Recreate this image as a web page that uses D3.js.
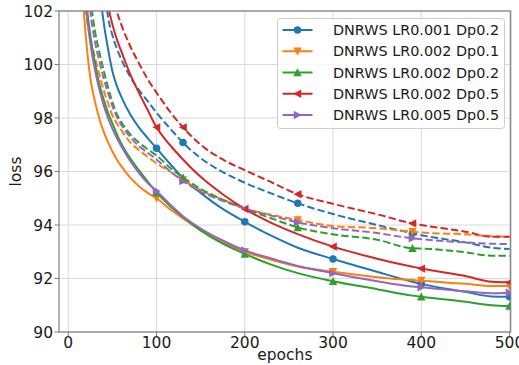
<!DOCTYPE html>
<html><head><meta charset="utf-8">
<script src="https://cdn.jsdelivr.net/npm/d3@7"></script>
<style>body{margin:0;background:#fff}svg{display:block;font-family:"DejaVu Sans",sans-serif}</style>
</head><body>
<svg id="c" width="519" height="365"></svg>
<script>
const epochs = [15,20,25,30,35,40,45,50,55,60,70,80,90,100,115,130,150,175,200,230,260,300,350,390,400,450,480,500];

const seriesNames = ["DNRWS LR0.001 Dp0.2","DNRWS LR0.002 Dp0.1","DNRWS LR0.002 Dp0.2","DNRWS LR0.002 Dp0.5","DNRWS LR0.005 Dp0.5"];
const colors = ["#1f77b4","#ff7f0e","#2ca02c","#d62728","#9467bd"];
const markers = ["circle","tdown","tup","tleft","tright"];

// solid lines
const solidLR001Dp02 = [118,112,108,105,103,101.6,100.6,99.75,99.2,98.8,98.15,97.65,97.25,96.87,96.3,95.75,95.2,94.6,94.12,93.6,93.15,92.73,92.25,91.88,91.8,91.5,91.33,91.32];
const solidLR002Dp01 = [103.2,101.0,99.5,98.65,98.0,97.5,97.1,96.75,96.45,96.2,95.78,95.45,95.2,95.0,94.6,94.25,93.8,93.35,93.0,92.7,92.45,92.25,92.05,91.94,91.92,91.8,91.72,91.72];
const solidLR002Dp02 = [106,102.6,101.1,100.1,99.3,98.7,98.2,97.8,97.4,97.05,96.5,96.05,95.62,95.22,94.72,94.3,93.8,93.3,92.92,92.52,92.2,91.9,91.6,91.36,91.32,91.13,91.0,90.97];
const solidLR002Dp05 = [125,118,113,109,106,103.6,102.25,101.5,100.95,100.5,99.65,98.95,98.3,97.65,97.0,96.45,95.8,95.15,94.6,94.08,93.66,93.19,92.74,92.44,92.37,92.09,91.88,91.86];
const solidLR005Dp05 = [105.5,102.3,100.8,99.85,99.1,98.5,98.0,97.6,97.25,96.95,96.4,95.95,95.57,95.27,94.78,94.33,93.87,93.42,93.05,92.75,92.47,92.2,91.9,91.7,91.67,91.52,91.45,91.47];

// dashed lines
const dashLR001Dp02 = [125,118,113,109,106,103.3,101.8,101.1,100.6,100.2,99.55,99.05,98.63,98.2,97.62,97.08,96.5,95.98,95.58,95.18,94.81,94.41,94.0,93.69,93.62,93.35,93.15,93.1];
const dashLR002Dp01 = [104.5,102.0,101.0,100.3,99.65,99.05,98.55,98.1,97.8,97.55,97.1,96.8,96.55,96.3,96.0,95.68,95.3,94.95,94.62,94.38,94.19,93.96,93.88,93.75,93.72,93.65,93.58,93.56];
const dashLR002Dp02 = [110,105,102.6,101.3,100.5,99.8,99.15,98.6,98.15,97.85,97.4,97.08,96.83,96.6,96.15,95.78,95.35,94.95,94.62,94.25,93.91,93.65,93.45,93.13,93.12,92.98,92.85,92.85];
const dashLR002Dp05 = [130,124,118,113,109,106,104,102.8,102.0,101.5,100.7,100.05,99.45,98.95,98.25,97.65,97.0,96.45,96.05,95.6,95.15,94.79,94.4,94.06,94.0,93.75,93.56,93.56];
const dashLR005Dp05 = [108,104,102.0,100.9,100.15,99.5,98.95,98.45,98.05,97.75,97.3,96.95,96.7,96.45,96.02,95.64,95.25,94.9,94.62,94.35,94.1,93.88,93.7,93.5,93.47,93.35,93.3,93.29];

const solidSeries = [solidLR001Dp02,solidLR002Dp01,solidLR002Dp02,solidLR002Dp05,solidLR005Dp05];
const dashSeries = [dashLR001Dp02,dashLR002Dp01,dashLR002Dp02,dashLR002Dp05,dashLR005Dp05];
const solidMarkEpochs = [100,200,300,400,500];
const dashMarkEpochs = [130,260,390];

const xTicks = [0,100,200,300,400,500];
const yTicks = [90,92,94,96,98,100,102];

const L=59, R=510.7, T=11, B=332;
const svg = d3.select("#c");
const x = d3.scaleLinear().domain([-10.5,501.3]).range([L,R]);
const y = d3.scaleLinear().domain([90,102]).range([B,T]);

svg.append("defs").append("clipPath").attr("id","clip")
  .append("rect").attr("x",L).attr("y",T).attr("width",R-L).attr("height",B-T);

// grid
const g = svg.append("g");
g.selectAll(".gx").data(xTicks).enter().append("line")
  .attr("x1",d=>x(d)).attr("x2",d=>x(d)).attr("y1",T).attr("y2",B)
  .attr("stroke","#d9d9d9").attr("stroke-width",1);
g.selectAll(".gy").data(yTicks).enter().append("line")
  .attr("y1",d=>y(d)).attr("y2",d=>y(d)).attr("x1",L).attr("x2",R)
  .attr("stroke","#d9d9d9").attr("stroke-width",1);

const circ = d3.symbol().type(d3.symbolCircle).size(44);
function markerPath(type, r){
  if(type==="circle") return circ();
  let pts;
  if(type==="tup") pts=[[0,-r],[r,r*0.9],[-r,r*0.9]];
  if(type==="tdown") pts=[[0,r],[r,-r*0.9],[-r,-r*0.9]];
  if(type==="tleft") pts=[[-r,0],[r*0.9,-r],[r*0.9,r]];
  if(type==="tright") pts=[[r,0],[-r*0.9,-r],[-r*0.9,r]];
  return "M"+pts.map(p=>p.join(",")).join("L")+"Z";
}

const plot = svg.append("g").attr("clip-path","url(#clip)");
const line = d3.line().x(d=>x(d[0])).y(d=>y(d[1])).curve(d3.curveMonotoneX);

function drawSeries(vals, i, dashed){
  const pts = epochs.map((e,k)=>[e, vals[k]]);
  plot.append("path").datum(pts).attr("d",line)
    .attr("fill","none").attr("stroke",colors[i]).attr("stroke-width",2)
    .attr("stroke-dasharray", dashed ? "7.4,3.2" : null);
  const me = dashed ? dashMarkEpochs : solidMarkEpochs;
  const mp = pts.filter(p=>me.includes(p[0]));
  plot.selectAll(null).data(mp).enter().append("path")
    .attr("d", markerPath(markers[i], 4.2))
    .attr("transform", d=>`translate(${x(d[0])},${y(d[1])})`)
    .attr("fill",colors[i]);
}
for(let i=0;i<5;i++){ drawSeries(solidSeries[i], i, false); drawSeries(dashSeries[i], i, true); }

// spines
svg.append("rect").attr("x",L).attr("y",T).attr("width",R-L).attr("height",B-T)
  .attr("fill","none").attr("stroke","#7f7f7f").attr("stroke-width",1.2);

// ticks
const ax = svg.append("g");
ax.selectAll(".xt").data(xTicks).enter().append("line")
  .attr("x1",d=>x(d)).attr("x2",d=>x(d)).attr("y1",B).attr("y2",B+4.5).attr("stroke","#7f7f7f");
ax.selectAll(".xl").data(xTicks).enter().append("text")
  .attr("x",d=>x(d)).attr("y",B+16).attr("text-anchor","middle").attr("font-size",15.5)
  .attr("fill","#1a1a1a").text(d=>d);
ax.selectAll(".yt").data(yTicks).enter().append("line")
  .attr("y1",d=>y(d)).attr("y2",d=>y(d)).attr("x1",L-4.5).attr("x2",L).attr("stroke","#7f7f7f");
ax.selectAll(".yl").data(yTicks).enter().append("text")
  .attr("x",L-6).attr("y",d=>y(d)).attr("dy","0.36em").attr("text-anchor","end").attr("font-size",15.5)
  .attr("fill","#1a1a1a").text(d=>d);

svg.append("text").attr("x",(L+R)/2).attr("y",360).attr("text-anchor","middle")
  .attr("font-size",15.5).attr("fill","#1a1a1a").text("epochs");
svg.append("text").attr("transform",`translate(21,${(T+B)/2}) rotate(-90)`).attr("text-anchor","middle")
  .attr("font-size",15.5).attr("fill","#1a1a1a").text("loss");

// legend
const lg = svg.append("g");
lg.append("rect").attr("x",277.5).attr("y",18.5).attr("width",227).attr("height",110).attr("rx",3)
  .attr("fill","#ffffff").attr("fill-opacity",0.8).attr("stroke","#cccccc").attr("stroke-width",1);
seriesNames.forEach((n,i)=>{
  const yy = 30 + i*21.25;
  lg.append("line").attr("x1",282.5).attr("x2",312.5).attr("y1",yy).attr("y2",yy)
    .attr("stroke",colors[i]).attr("stroke-width",2);
  lg.append("path").attr("d",markerPath(markers[i],4.2)).attr("transform",`translate(297.5,${yy})`).attr("fill",colors[i]);
  lg.append("text").attr("x",333).attr("y",yy).attr("dy","0.36em").attr("font-size",14.4)
    .attr("fill","#1a1a1a").text(n);
});
</script>
</body></html>
